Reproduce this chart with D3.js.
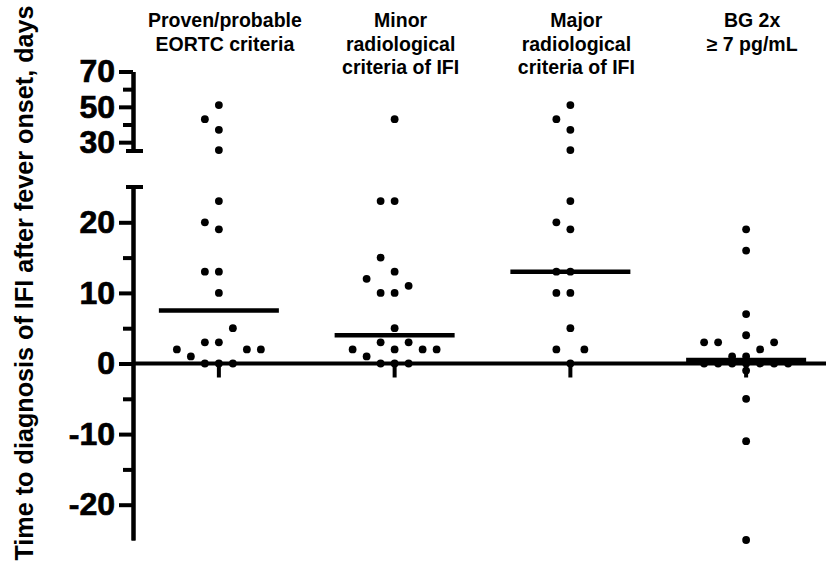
<!DOCTYPE html>
<html><head><meta charset="utf-8">
<script src="https://cdn.jsdelivr.net/npm/d3@7"></script>
<style>html,body{margin:0;padding:0;background:#fff}</style>
</head><body>
<svg id="chart" width="826" height="566"></svg>
<script>
// ---------- data ----------
const categories = [
  ["Proven/probable", "EORTC criteria"],
  ["Minor", "radiological", "criteria of IFI"],
  ["Major", "radiological", "criteria of IFI"],
  ["BG 2x", "\u2265 7 pg/mL"]
];
const provenValues = [51, 43, 37, 25.5, 23, 20, 19, 13, 13, 10, 5, 3, 3, 2, 2, 2, 1, 0, 0, 0];
const minorValues  = [43, 23, 23, 15, 13, 12, 11, 10, 10, 5, 3, 3, 2, 2, 2, 2, 1, 0, 0, 0];
const majorValues  = [51, 43, 37, 25.5, 23, 20, 19, 13, 13, 10, 10, 5, 2, 2, 0];
const bgValues     = [19, 16, 7, 4, 3, 3, 3, 2, 1, 1, 0, 0, 0, 0, 0, 0, 0, -1, -5, -11, -25];
const medianValues = [7.5, 4, 13, 0.5];
const upperMajorTicks = [30, 50, 70];
const upperMinorTicks = [40, 60];
const lowerMajorTicks = [-20, -10, 0, 10, 20];
const lowerMinorTicks = [-15, -5, 5, 15];
const breakValue = 25;
const upperDomain = [25, 70];
const lowerDomain = [-25, 25];
const yTitle = "Time to diagnosis of IFI after fever onset, days";

const seriesValues = [provenValues, minorValues, majorValues, bgValues];

// ---------- layout ----------
const W = 826, H = 566;
const FONT = "'Liberation Sans', Arial, Helvetica, sans-serif";
const svg = d3.select("#chart");
svg.append("rect").attr("width", W).attr("height", H).attr("fill", "#fff");

const axisX = 133;
const yUpper = d3.scaleLinear().domain(upperDomain).range([151, 71.5]);
const yLower = d3.scaleLinear().domain(lowerDomain).range([540, 187]);
const yPos = v => v > breakValue ? yUpper(v) : yLower(v);
const x = d3.scaleBand().domain(d3.range(categories.length)).range([131, 834]);
const cx = i => x(i) + x.bandwidth() / 2;

function styleAxis(g) {
  g.selectAll("path,line").attr("stroke", "#000").attr("stroke-width", 4);
  g.selectAll("text").attr("fill", "#000").attr("stroke", "#000").attr("stroke-width", 0.7)
    .style("font-family", FONT).style("font-weight", "bold").style("font-size", "32px");
}
const fmt = d => String(d);

// lower segment
svg.append("g").attr("transform", `translate(${axisX},0)`)
  .call(d3.axisLeft(yLower).tickValues(lowerMajorTicks).tickSize(14).tickSizeOuter(0).tickPadding(4).tickFormat(fmt))
  .call(styleAxis);
svg.append("g").attr("transform", `translate(${axisX},0)`)
  .call(d3.axisLeft(yLower).tickValues(lowerMinorTicks).tickSize(10).tickSizeOuter(0).tickFormat(""))
  .call(styleAxis);
// upper segment
svg.append("g").attr("transform", `translate(${axisX},0)`)
  .call(d3.axisLeft(yUpper).tickValues(upperMajorTicks).tickSize(14).tickSizeOuter(0).tickPadding(4).tickFormat(fmt))
  .call(styleAxis);
svg.append("g").attr("transform", `translate(${axisX},0)`)
  .call(d3.axisLeft(yUpper).tickValues(upperMinorTicks).tickSize(10).tickSizeOuter(0).tickFormat(""))
  .call(styleAxis);

// break caps
[yUpper(breakValue), yLower(breakValue)].forEach(yy => {
  svg.append("line").attr("x1", axisX - 7).attr("x2", axisX + 10)
    .attr("y1", yy).attr("y2", yy).attr("stroke", "#000").attr("stroke-width", 4);
});

// zero baseline + category ticks
svg.append("line").attr("x1", axisX).attr("x2", W)
  .attr("y1", yLower(0)).attr("y2", yLower(0)).attr("stroke", "#000").attr("stroke-width", 4);
const xg = svg.append("g").attr("transform", `translate(0,${yLower(0)})`)
  .call(d3.axisBottom(x).tickSize(14).tickSizeOuter(0).tickFormat(""));
xg.select(".domain").remove();
xg.selectAll("line").attr("stroke", "#000").attr("stroke-width", 4);

// median lines
svg.append("g").selectAll("line").data(medianValues).join("line")
  .attr("x1", (d, i) => cx(i) - 60).attr("x2", (d, i) => cx(i) + 60)
  .attr("y1", d => yPos(d)).attr("y2", d => yPos(d))
  .attr("stroke", "#000").attr("stroke-width", 4.5);

// beeswarm placement
const step = 14, r = 3.9;
function swarm(values) {
  const pts = values.map(v => ({ v, y: yPos(v) })).sort((a, b) => a.v - b.v);
  const placed = [];
  const cands = [0];
  for (let k = 1; k <= 3; k++) cands.push(-k, k);
  pts.forEach(p => {
    let best = 0, bestD = -1;
    for (const c of cands) {
      const dx = c * step;
      let free = true, minD = Infinity;
      for (const q of placed) {
        const ddx = Math.abs(q.dx - dx), ddy = Math.abs(q.y - p.y);
        if (ddx < step * 0.9 && ddy < 15) free = false;
        minD = Math.min(minD, Math.hypot(ddx, ddy));
      }
      if (free) { best = c; break; }
      if (minD > bestD + 1e-6) { bestD = minD; best = c; }
    }
    p.dx = best * step;
    placed.push(p);
  });
  return pts;
}

seriesValues.forEach((vals, i) => {
  svg.append("g").selectAll("circle").data(swarm(vals)).join("circle")
    .attr("cx", d => cx(i) + d.dx).attr("cy", d => d.y).attr("r", r).attr("fill", "#000");
});

// category titles
categories.forEach((lines, i) => {
  const t = svg.append("text").attr("text-anchor", "middle")
    .style("font-family", FONT).style("font-weight", "bold").style("font-size", "19.5px").attr("fill", "#000");
  lines.forEach((ln, j) => {
    t.append("tspan").attr("x", cx(i) + 6).attr("y", 27 + j * 23.5).text(ln);
  });
});

// y title
svg.append("text").attr("transform", "translate(33,283) rotate(-90)")
  .attr("text-anchor", "middle")
  .style("font-family", FONT).style("font-weight", "bold").style("font-size", "25.2px")
  .attr("fill", "#000").text(yTitle);
</script>
</body></html>
